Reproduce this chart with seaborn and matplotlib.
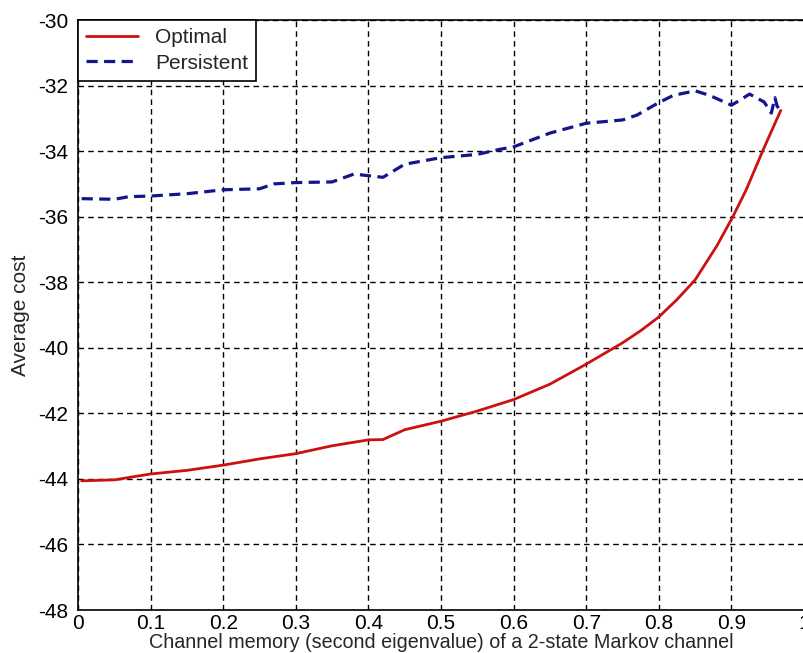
import matplotlib
matplotlib.use("Agg")
import matplotlib.pyplot as plt
import seaborn as sns
import pandas as pd

# Data
opt_x = [0.005, 0.05, 0.1, 0.15, 0.2, 0.25, 0.3, 0.35, 0.4, 0.42, 0.45, 0.5,
         0.55, 0.6, 0.65, 0.7, 0.75, 0.775, 0.8, 0.825, 0.85, 0.88, 0.902, 0.92,
         0.943, 0.955, 0.968]
opt_y = [-44.06, -44.03, -43.85, -43.74, -43.58, -43.39, -43.23, -42.99, -42.81, -42.8,
         -42.5, -42.24, -41.93, -41.58, -41.11, -40.5, -39.85, -39.48, -39.06, -38.53,
         -37.93, -36.89, -36.0, -35.2, -34.0, -33.4, -32.76]

per_x = [0.005, 0.05, 0.07, 0.1, 0.15, 0.2, 0.25, 0.27, 0.3, 0.35, 0.38, 0.42, 0.45,
         0.5, 0.55, 0.58, 0.6, 0.65, 0.7, 0.75, 0.77, 0.8, 0.82, 0.85, 0.87, 0.9,
         0.91, 0.925, 0.945, 0.955, 0.96, 0.963, 0.968]
per_y = [-35.45, -35.47, -35.39, -35.37, -35.3, -35.18, -35.15, -35.0, -34.96, -34.94,
         -34.7, -34.8, -34.4, -34.2, -34.1, -33.95, -33.87, -33.45, -33.15, -33.05,
         -32.9, -32.52, -32.3, -32.16, -32.3, -32.6, -32.47, -32.26, -32.5, -32.84,
         -32.37, -32.63, -32.76]

x_ticks = [0, 0.1, 0.2, 0.3, 0.4, 0.5, 0.6, 0.7, 0.8, 0.9, 1]
x_tick_labels = ["0", "0.1", "0.2", "0.3", "0.4", "0.5", "0.6", "0.7", "0.8", "0.9", "1"]
y_ticks = [-48, -46, -44, -42, -40, -38, -36, -34, -32, -30]

series_names = ["Optimal", "Persistent"]

sns.set_style("white")
plt.rcParams['font.family'] = ['Liberation Sans', 'DejaVu Sans']

FS = 15
XL_FS = 14.2

fig = plt.figure(figsize=(8.04, 6.53), dpi=100)
ax = fig.add_axes([78 / 804, 43 / 653, 726 / 804, 590 / 653])

df_opt = pd.DataFrame({"x": opt_x, "y": opt_y})
df_per = pd.DataFrame({"x": per_x, "y": per_y})

sns.lineplot(data=df_opt, x="x", y="y", ax=ax, color="#cc1111", linewidth=2,
             label=series_names[0], sort=False, estimator=None)
sns.lineplot(data=df_per, x="x", y="y", ax=ax, color="#14148c", linewidth=2.3,
             label=series_names[1], sort=False, estimator=None)
ax.lines[1].set_linestyle((0, (3.5, 2)))

ax.set_xlim(0, 1)
ax.set_ylim(-48, -30)
ax.set_xticks(x_ticks)
ax.set_xticklabels(x_tick_labels)
ax.set_yticks(y_ticks)
ax.set_yticklabels([str(v) for v in y_ticks])
ax.tick_params(direction="in", length=4, labelsize=FS, colors="black", pad=3)
ax.tick_params(axis="y", pad=7)

ax.grid(True, color="black", linestyle=(0, (4, 3)), linewidth=1)
for s in ax.spines.values():
    s.set_color("black")
    s.set_linewidth(1.2)

ax.set_xlabel("Channel memory (second eigenvalue) of a 2-state Markov channel",
              fontsize=XL_FS, labelpad=0)
ax.set_ylabel("Average cost", fontsize=FS, labelpad=6)

leg = ax.legend(loc="upper left", bbox_to_anchor=(0, 1), borderaxespad=0,
                fontsize=FS, frameon=True, fancybox=False, handlelength=2.5,
                borderpad=0.4, labelspacing=0.3, handletextpad=0.8)
leg.get_frame().set_edgecolor("black")
leg.get_frame().set_linewidth(1.2)
leg.get_frame().set_alpha(1)
leg.get_lines()[1].set_linestyle((0, (3.5, 2)))

fig.savefig("out.png", dpi=100)
